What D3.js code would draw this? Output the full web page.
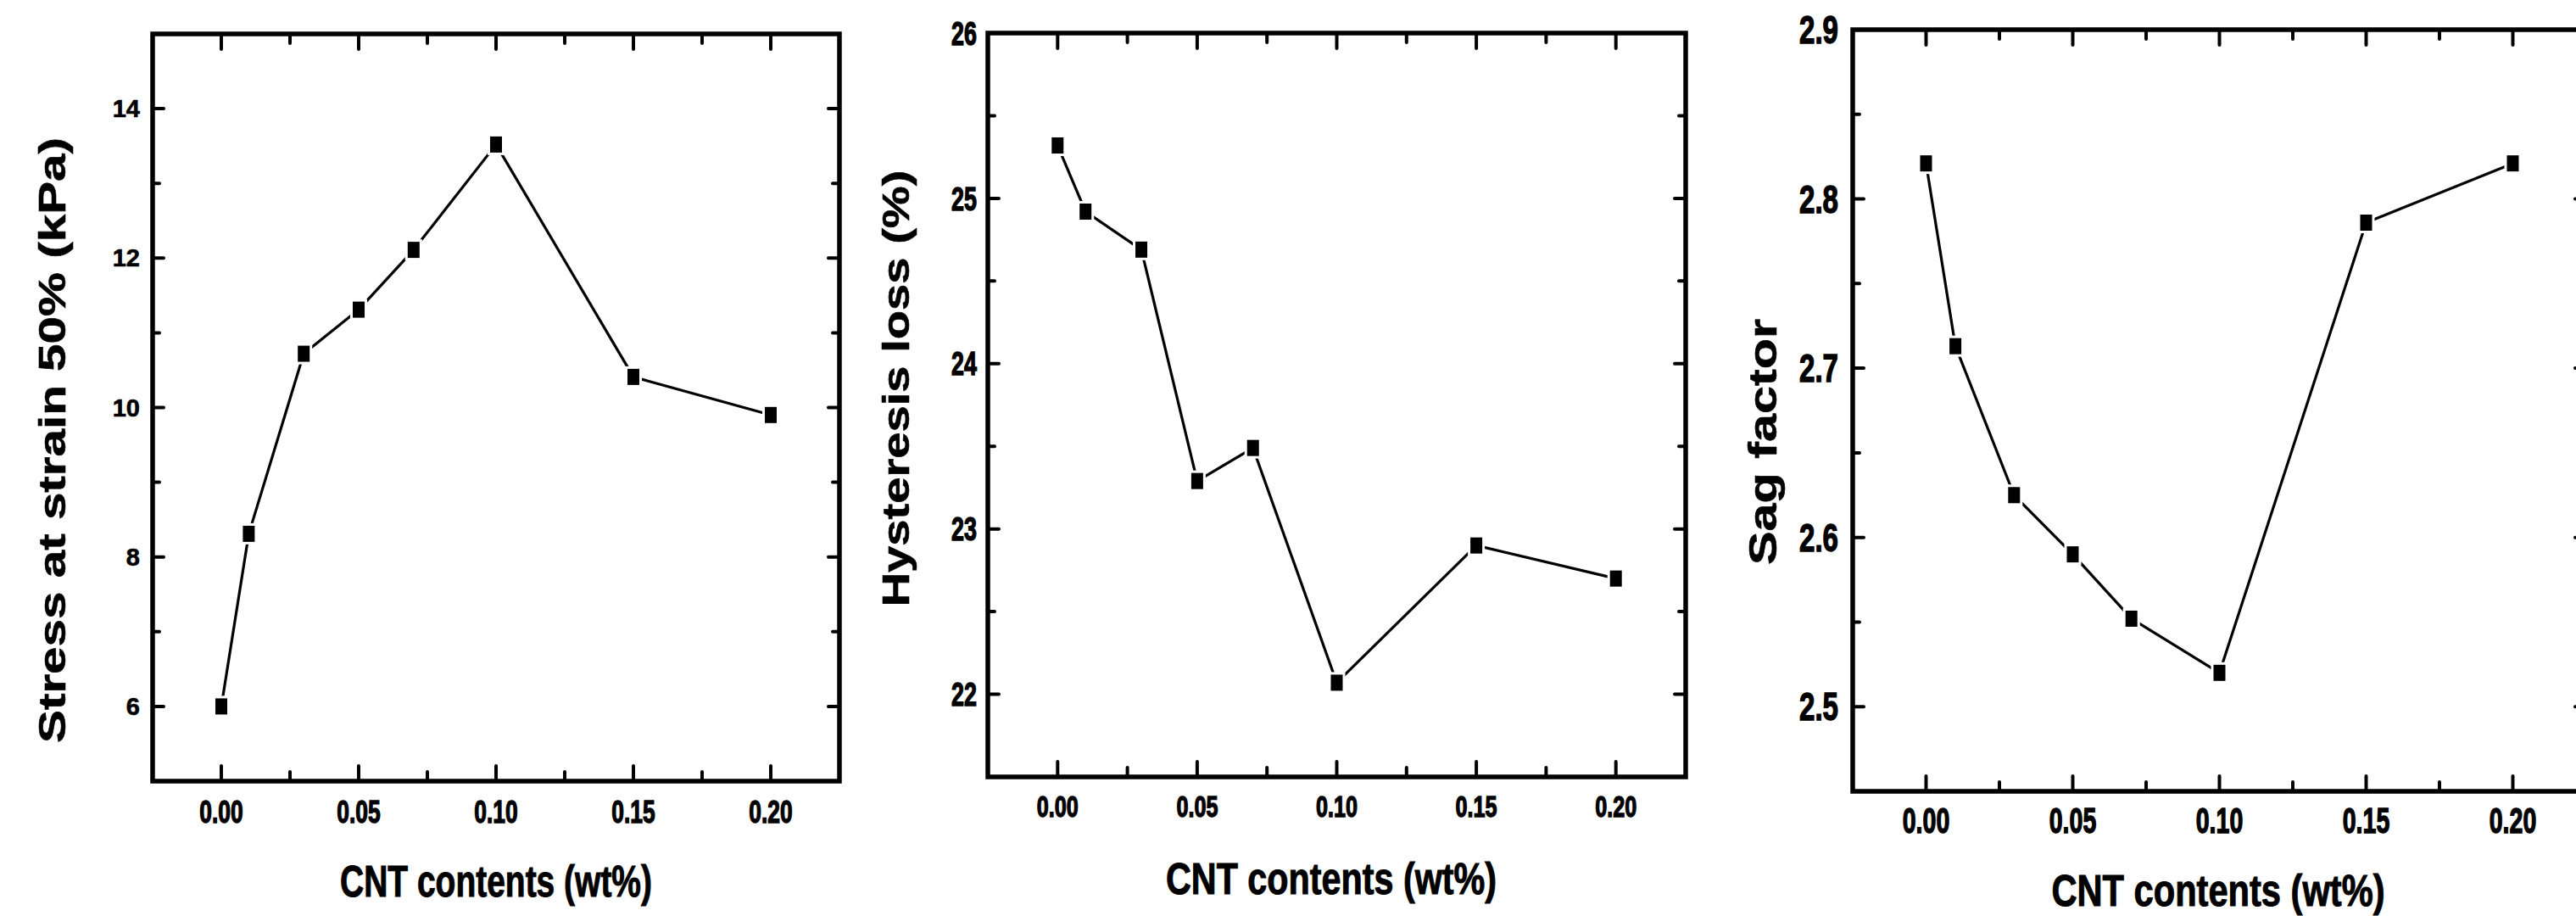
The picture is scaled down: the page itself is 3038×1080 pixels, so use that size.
<!DOCTYPE html>
<html>
<head>
<meta charset="utf-8">
<script src="https://cdn.jsdelivr.net/npm/d3@7"></script>
<style>
  body { margin: 0; background: #fff; }
  svg { display: block; }
  text { font-family: "Liberation Sans", Arial, sans-serif; font-weight: bold; fill: #000; }
</style>
</head>
<body>
<svg id="fig" width="3038" height="1080"></svg>
<script>
// CNT loading (wt%) shared by all three panels
const cntContent = [0, 0.01, 0.03, 0.05, 0.07, 0.10, 0.15, 0.20];

// Measured properties
const stressAt50 = [6.0, 8.31, 10.72, 11.31, 12.11, 13.52, 10.41, 9.90];
const hysteresisLoss = [25.32, 24.92, 24.69, 23.29, 23.49, 22.07, 22.90, 22.70];
const sagFactor = [2.821, 2.713, 2.625, 2.590, 2.552, 2.520, 2.786, 2.821];

// Tick values
const xTicks = [0, 0.05, 0.10, 0.15, 0.20];
const xMinorTicks = [0.025, 0.075, 0.125, 0.175];
const stressTicks = [6, 8, 10, 12, 14];
const stressMinor = [7, 9, 11, 13];
const hysteresisTicks = [22, 23, 24, 25, 26];
const hysteresisMinor = [22.5, 23.5, 24.5, 25.5];
const sagTicks = [2.5, 2.6, 2.7, 2.8, 2.9];
const sagMinor = [2.55, 2.65, 2.75, 2.85];

const xDomain = [-0.025, 0.225];
const xTitle = "CNT contents (wt%)";

// Panel layout and typography
const panels = [
  {
    values: stressAt50, yDomain: [5, 15], yTicks: stressTicks, yMinor: stressMinor,
    yFmt: d3.format("d"), yLabel: "Stress at strain 50% (kPa)",
    box: { l: 180, r: 990, t: 40, b: 921 },
    yTickFont: 29, yTickSx: 1.0, yTickRight: 165,
    xTickFont: 37.7, xTickSx: 0.70, xTickBase: 970,
    titleFont: 51, titleLen: 368, titleBase: 1057, titleX: 585,
    labelFont: 45, labelLen: 714, labelCy: 519, labelBaseX: 77
  },
  {
    values: hysteresisLoss, yDomain: [21.5, 26], yTicks: hysteresisTicks, yMinor: hysteresisMinor,
    yFmt: d3.format("d"), yLabel: "Hysteresis loss (%)",
    box: { l: 1165, r: 1988, t: 39, b: 916 },
    yTickFont: 39, yTickSx: 0.69, yTickRight: 1152,
    xTickFont: 36, xTickSx: 0.70, xTickBase: 963,
    titleFont: 51, titleLen: 390, titleBase: 1054, titleX: 1570,
    labelFont: 45, labelLen: 515, labelCy: 458, labelBaseX: 1072
  },
  {
    values: sagFactor, yDomain: [2.45, 2.9], yTicks: sagTicks, yMinor: sagMinor,
    yFmt: d3.format(".1f"), yLabel: "Sag factor",
    box: { l: 2185, r: 3050, t: 35, b: 933 },
    yTickFont: 46, yTickSx: 0.72, yTickRight: 2168,
    xTickFont: 42, xTickSx: 0.68, xTickBase: 982,
    titleFont: 51, titleLen: 393, titleBase: 1068, titleX: 2616,
    labelFont: 46, labelLen: 290, labelCy: 521, labelBaseX: 2095
  }
];

const svg = d3.select("#fig");

function styleTicks(sel, width) {
  sel.select(".domain").remove();
  sel.selectAll(".tick line")
    .attr("stroke", "#000")
    .attr("stroke-width", width)
    .attr("stroke-linecap", "round");
  sel.attr("font-family", null).attr("font-size", null);
}

panels.forEach(p => {
  const { l, r, t, b } = p.box;
  const x = d3.scaleLinear().domain(xDomain).range([l, r]);
  const y = d3.scaleLinear().domain(p.yDomain).range([b, t]);
  const g = svg.append("g");

  // Bottom axis: major ticks with labels, then minor ticks
  const bottom = g.append("g").attr("transform", `translate(0,${b})`)
    .call(d3.axisBottom(x).offset(0).tickValues(xTicks).tickSize(-18).tickFormat(d3.format(".2f")))
    .call(s => styleTicks(s, 4));
  bottom.selectAll(".tick text")
    .attr("y", p.xTickBase - b).attr("dy", null)
    .attr("font-size", p.xTickFont)
    .attr("stroke", "#000").attr("stroke-width", 1.4)
    .attr("transform", `scale(${p.xTickSx},1)`);
  g.append("g").attr("transform", `translate(0,${b})`)
    .call(d3.axisBottom(x).offset(0).tickValues(xMinorTicks).tickSize(-11).tickFormat(""))
    .call(s => styleTicks(s, 4));

  // Top axis (ticks only, pointing inward)
  g.append("g").attr("transform", `translate(0,${t})`)
    .call(d3.axisTop(x).offset(0).tickValues(xTicks).tickSize(-18).tickFormat(""))
    .call(s => styleTicks(s, 4));
  g.append("g").attr("transform", `translate(0,${t})`)
    .call(d3.axisTop(x).offset(0).tickValues(xMinorTicks).tickSize(-11).tickFormat(""))
    .call(s => styleTicks(s, 4));

  // Left axis: major ticks with labels, then minor ticks
  const left = g.append("g").attr("transform", `translate(${l},0)`)
    .call(d3.axisLeft(y).offset(0).tickValues(p.yTicks).tickSize(-13).tickFormat(p.yFmt))
    .call(s => styleTicks(s, 4));
  left.selectAll(".tick text")
    .attr("x", (p.yTickRight - l) / p.yTickSx)
    .attr("dy", "0.35em")
    .attr("font-size", p.yTickFont)
    .attr("text-anchor", "end")
    .attr("stroke", "#000").attr("stroke-width", p.yTickSx < 1 ? 1.4 : 0.6)
    .attr("transform", `scale(${p.yTickSx},1)`);
  g.append("g").attr("transform", `translate(${l},0)`)
    .call(d3.axisLeft(y).offset(0).tickValues(p.yMinor).tickSize(-8).tickFormat(""))
    .call(s => styleTicks(s, 4));

  // Right axis (ticks only, pointing inward)
  g.append("g").attr("transform", `translate(${r},0)`)
    .call(d3.axisRight(y).offset(0).tickValues(p.yTicks).tickSize(-13).tickFormat(""))
    .call(s => styleTicks(s, 4));
  g.append("g").attr("transform", `translate(${r},0)`)
    .call(d3.axisRight(y).offset(0).tickValues(p.yMinor).tickSize(-8).tickFormat(""))
    .call(s => styleTicks(s, 4));

  // Plot frame
  g.append("rect")
    .attr("x", l).attr("y", t)
    .attr("width", r - l).attr("height", b - t)
    .attr("fill", "none").attr("stroke", "#000").attr("stroke-width", 5.5);

  // Data line
  const pts = d3.zip(cntContent, p.values);
  g.append("path")
    .datum(pts)
    .attr("fill", "none").attr("stroke", "#000").attr("stroke-width", 3.2)
    .attr("stroke-linejoin", "round")
    .attr("d", d3.line().x(d => x(d[0])).y(d => y(d[1])));

  // Square markers with a thin white gap around them
  const mw = 14, mh = 19, gap = 3;
  g.append("g").selectAll("rect").data(pts).join("rect")
    .attr("x", d => x(d[0]) - mw / 2 - gap).attr("y", d => y(d[1]) - mh / 2 - gap)
    .attr("width", mw + 2 * gap).attr("height", mh + 2 * gap)
    .attr("fill", "#fff");
  g.append("g").selectAll("rect").data(pts).join("rect")
    .attr("x", d => x(d[0]) - mw / 2).attr("y", d => y(d[1]) - mh / 2)
    .attr("width", mw).attr("height", mh)
    .attr("fill", "#000");

  // Axis titles
  g.append("text")
    .attr("x", p.titleX).attr("y", p.titleBase)
    .attr("text-anchor", "middle")
    .attr("font-size", p.titleFont)
    .attr("stroke", "#000").attr("stroke-width", 1)
    .attr("textLength", p.titleLen).attr("lengthAdjust", "spacingAndGlyphs")
    .text(xTitle);

  g.append("text")
    .attr("transform", `translate(${p.labelBaseX},${p.labelCy}) rotate(-90)`)
    .attr("x", 0).attr("y", 0)
    .attr("text-anchor", "middle")
    .attr("font-size", p.labelFont)
    .attr("stroke", "#000").attr("stroke-width", 0.6)
    .attr("textLength", p.labelLen).attr("lengthAdjust", "spacingAndGlyphs")
    .text(p.yLabel);
});
</script>
</body>
</html>
